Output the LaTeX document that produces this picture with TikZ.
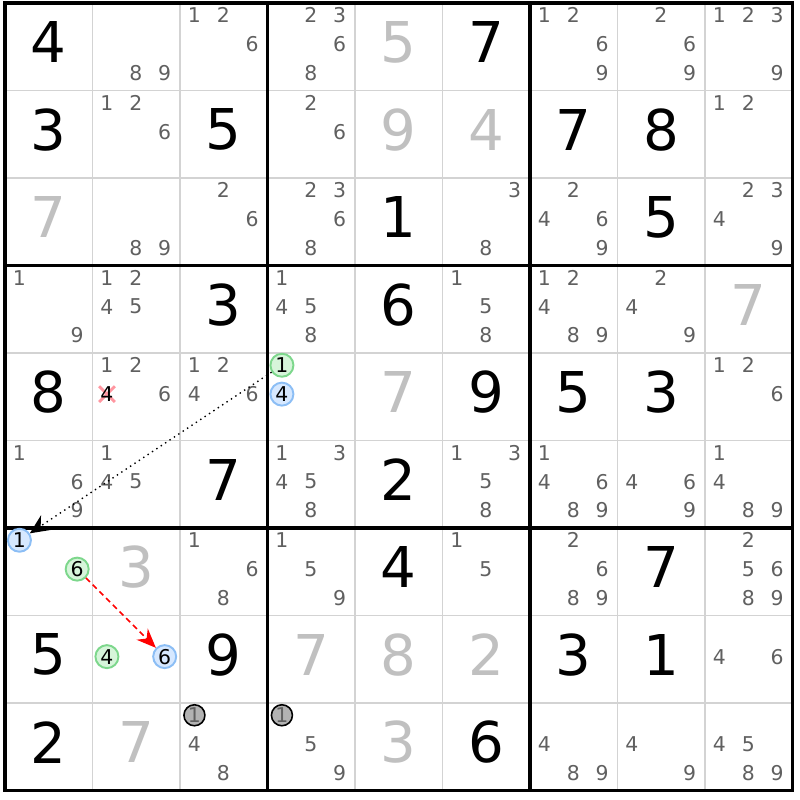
\documentclass[tikz,border=0pt]{standalone}
\usepackage{fontspec}
\setmainfont{DejaVu Sans}
\usetikzlibrary{arrows.meta}
\definecolor{candgray}{RGB}{96,96,96}
\definecolor{solvedgray}{RGB}{192,192,192}
\definecolor{gridgray}{RGB}{211,211,211}
\definecolor{greenfill}{RGB}{214,245,218}
\definecolor{greenline}{RGB}{125,215,140}
\definecolor{bluefill}{RGB}{214,232,255}
\definecolor{blueline}{RGB}{140,190,245}
\definecolor{crosspink}{RGB}{255,150,160}
\tikzset{
  given/.style={font=\fontsize{16}{16}\selectfont, inner sep=0pt},
  solved/.style={given, text=solvedgray},
  cand/.style={font=\fontsize{5.8}{6}\selectfont, text=candgray, inner sep=0pt},
  ongreen/.style={cand, text=black, circle, draw=greenline, fill=greenfill, line width=0.55pt, minimum size=0.23cm},
  onblue/.style={cand, text=black, circle, draw=blueline, fill=bluefill, line width=0.55pt, minimum size=0.23cm},
  ongray/.style={cand, circle, draw=black, fill=gray!60, line width=0.45pt, minimum size=0.21cm},
  thinline/.style={gridgray, line width=0.55pt},
  thickline/.style={black, line width=0.9pt, line cap=rect},
  weaklink/.style={black, line width=0.4pt, dash pattern=on 0.4pt off 1.1pt, -{Stealth[length=5.5pt,width=5pt]}},
  stronglink/.style={red, line width=0.45pt, dash pattern=on 1.6pt off 1.1pt, -{Stealth[length=5.5pt,width=4.5pt]}},
  elimcross/.style={crosspink, line width=0.8pt}
}
\begin{document}
\begin{tikzpicture}[x=0.875cm, y=-0.875cm]
\useasboundingbox (-0.0571,-0.0343) rectangle (9.0857,9.1086);
\fill[white] (-0.0571,-0.0343) rectangle (9.0857,9.1086);

\foreach \i in {1,...,8} {
  \draw[thinline] (\i,0) -- (\i,9);
  \draw[thinline] (0,\i) -- (9,\i);
}
\foreach \i in {0,3,6,9} {
  \draw[thickline] (\i,0) -- (\i,9);
  \draw[thickline] (0,\i) -- (9,\i);
}

\foreach \r/\c/\d in {0/0/4, 0/5/7, 1/0/3, 1/2/5, 1/6/7, 1/7/8, 2/4/1, 2/7/5,
  3/2/3, 3/4/6, 4/0/8, 4/5/9, 4/6/5, 4/7/3, 5/2/7, 5/4/2, 6/4/4, 6/7/7,
  7/0/5, 7/2/9, 7/6/3, 7/7/1, 8/0/2, 8/5/6}
  \node[given] (g\r\c) at (\c+0.5,\r+0.45) {\d};

\foreach \r/\c/\d in {0/4/5, 1/4/9, 1/5/4, 2/0/7, 3/8/7, 4/4/7, 6/1/3,
  7/3/7, 7/4/8, 7/5/2, 8/1/7, 8/4/3}
  \node[solved] (s\r\c) at (\c+0.5,\r+0.45) {\d};

\foreach \r/\c/\ds in {0/1/{8,9}, 0/2/{1,2,6}, 0/3/{2,3,6,8}, 0/6/{1,2,6,9}, 0/7/{2,6,9}, 0/8/{1,2,3,9},
  1/1/{1,2,6}, 1/3/{2,6}, 1/8/{1,2},
  2/1/{8,9}, 2/2/{2,6}, 2/3/{2,3,6,8}, 2/5/{3,8}, 2/6/{2,4,6,9}, 2/8/{2,3,4,9},
  3/0/{1,9}, 3/1/{1,2,4,5}, 3/3/{1,4,5,8}, 3/5/{1,5,8}, 3/6/{1,2,4,8,9}, 3/7/{2,4,9},
  4/1/{1,2,6}, 4/2/{1,2,4,6}, 4/8/{1,2,6},
  5/0/{1,6,9}, 5/1/{1,4,5}, 5/3/{1,3,4,5,8}, 5/5/{1,3,5,8}, 5/6/{1,4,6,8,9}, 5/7/{4,6,9}, 5/8/{1,4,8,9},
  6/2/{1,6,8}, 6/3/{1,5,9}, 6/5/{1,5}, 6/6/{2,6,8,9}, 6/8/{2,5,6,8,9},
  7/8/{4,6},
  8/2/{4,8}, 8/3/{5,9}, 8/6/{4,8,9}, 8/7/{4,9}, 8/8/{4,5,8,9}}
  \foreach \d in \ds {
    \pgfmathtruncatemacro\cx{mod(\d-1,3)}
    \pgfmathtruncatemacro\cy{div(\d-1,3)}
    \node[cand] (n\r\c\d) at (\c+0.165+0.33*\cx,\r+0.14+0.33*\cy) {\d};
  }

\draw[elimcross] (1.075,4.38) -- (1.255,4.56) (1.075,4.56) -- (1.255,4.38);
\node[cand, text=black] (n414) at (1.165,4.47) {4};

\node[ongreen] (n431) at (3.165,4.14) {1};
\node[onblue] (n434) at (3.165,4.47) {4};
\node[onblue] (n601) at (0.165,6.14) {1};
\node[ongreen] (n606) at (0.825,6.47) {6};
\node[ongreen] (n714) at (1.165,7.47) {4};
\node[onblue] (n716) at (1.825,7.47) {6};
\node[ongray] (n821) at (2.165,8.14) {1};
\node[ongray] (n831) at (3.165,8.14) {1};

\draw[weaklink] (n431) -- (n601);
\draw[stronglink] (n606) -- (n716);
\end{tikzpicture}
\end{document}
